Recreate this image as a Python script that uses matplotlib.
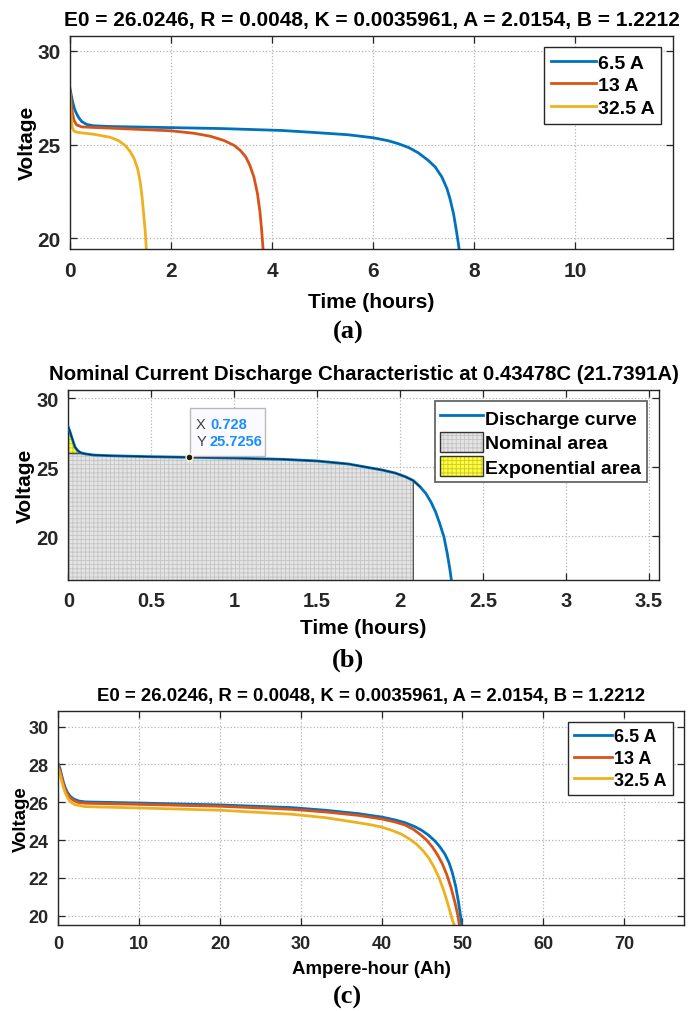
import numpy as np
import matplotlib
matplotlib.use("Agg")
import matplotlib.pyplot as plt
from matplotlib.patches import Rectangle, Patch
from matplotlib.legend_handler import HandlerTuple

# ---------------------------------------------------------------
# data
# ---------------------------------------------------------------
PARAM_TITLE = "E0 = 26.0246, R = 0.0048, K = 0.0035961, A = 2.0154, B = 1.2212"
currents = ["6.5 A", "13 A", "32.5 A"]

# (a) voltage vs time (hours)
a_t_65 = [0, 0.02, 0.053, 0.1, 0.166, 0.23, 0.33, 0.46, 0.79, 2.0, 3.0, 4.18, 4.84,
          5.5, 6.0, 6.3, 6.5, 6.7, 6.89, 7.09, 7.23, 7.36, 7.46, 7.52, 7.59, 7.64,
          7.68, 7.70]
a_v_65 = [27.97, 27.7, 27.26, 26.81, 26.46, 26.23, 26.07, 26.0, 25.96, 25.9, 25.85,
          25.75, 25.64, 25.52, 25.36, 25.2, 25.04, 24.84, 24.56, 24.15, 23.79, 23.26,
          22.64, 22.1, 21.3, 20.5, 19.8, 19.44]
a_t_13 = [0, 0.02, 0.046, 0.08, 0.13, 0.23, 0.46, 1.0, 1.5, 2.0, 2.45, 2.78, 3.05,
          3.25, 3.38, 3.48, 3.56, 3.64, 3.71, 3.76, 3.79, 3.82]
a_v_13 = [27.88, 27.34, 26.72, 26.28, 26.05, 25.94, 25.91, 25.85, 25.79, 25.73, 25.6,
          25.44, 25.21, 24.95, 24.66, 24.33, 23.88, 23.26, 22.37, 21.39, 20.5, 19.44]
a_t_325 = [0, 0.013, 0.026, 0.046, 0.08, 0.166, 0.46, 0.79, 0.96, 1.09, 1.19, 1.27,
           1.34, 1.39, 1.43, 1.46, 1.49, 1.51]
a_v_325 = [27.7, 26.9, 26.28, 25.89, 25.71, 25.64, 25.55, 25.39, 25.21, 24.95, 24.63,
           24.24, 23.7, 22.99, 22.1, 21.22, 20.33, 19.44]

# (b) nominal current discharge curve
b_t = [0, 0.01, 0.02, 0.03, 0.04, 0.055, 0.07, 0.09, 0.11, 0.15, 0.25, 0.5, 0.728,
       1.0, 1.29, 1.5, 1.69, 1.89, 1.97, 2.03, 2.08, 2.12, 2.155, 2.187, 2.215, 2.24,
       2.265, 2.285, 2.30, 2.31]
b_v = [27.89, 27.55, 27.17, 26.8, 26.45, 26.22, 26.08, 26.0, 25.96, 25.89, 25.84,
       25.77, 25.7256, 25.67, 25.58, 25.46, 25.24, 24.81, 24.59, 24.33, 24.04, 23.6,
       23.12, 22.47, 21.75, 20.9, 19.94, 18.73, 17.65, 16.8]
b_exp_v = 26.0      # end of exponential zone
b_exp_t = 0.09
b_nom_t = 2.08      # end of nominal zone
tip_x, tip_y = 0.728, 25.7256

# (c) voltage vs ampere-hour
c_ah_65 = [0, 0.21, 0.41, 0.62, 0.83, 1.12, 1.45, 1.86, 2.48, 3.3, 10, 20, 28.8, 33,
           37.1, 40.0, 41.65, 42.9, 44.13, 44.96, 45.79, 46.61, 47.23, 47.85, 48.35,
           48.76, 49.17, 49.5, 49.75, 49.92]
c_v_65 = [28.0, 27.75, 27.39, 27.04, 26.78, 26.51, 26.32, 26.18, 26.07, 26.02, 25.96,
          25.86, 25.72, 25.58, 25.4, 25.22, 25.07, 24.92, 24.71, 24.52, 24.27, 23.95,
          23.64, 23.25, 22.81, 22.28, 21.57, 20.78, 20.07, 19.51]
c_ah_13 = [0, 0.21, 0.41, 0.62, 0.83, 1.12, 1.45, 1.86, 2.48, 3.3, 10, 20, 28.8, 33,
           37.1, 40.0, 41.65, 42.9, 43.93, 44.75, 45.58, 46.28, 46.94, 47.52, 48.06,
           48.6, 49.09, 49.42, 49.63]
c_v_13 = [27.9, 27.62, 27.28, 26.94, 26.68, 26.42, 26.24, 26.1, 25.99, 25.95, 25.89,
          25.79, 25.63, 25.49, 25.31, 25.12, 24.96, 24.8, 24.57, 24.31, 24.0, 23.64,
          23.21, 22.75, 22.19, 21.49, 20.69, 20.07, 19.51]
c_ah_325 = [0, 0.21, 0.41, 0.62, 0.83, 1.24, 1.65, 2.07, 3.3, 10, 20, 28.8, 33, 37.1,
            38.76, 40.0, 41.24, 42.48, 43.51, 44.34, 45.17, 45.87, 46.53, 47.11, 47.64,
            48.1, 48.51, 48.8, 49.0]
c_v_325 = [27.75, 27.45, 27.1, 26.78, 26.51, 26.15, 25.97, 25.87, 25.77, 25.7, 25.58,
           25.37, 25.19, 24.92, 24.8, 24.69, 24.52, 24.31, 24.04, 23.78, 23.42, 23.04,
           22.54, 22.01, 21.4, 20.78, 20.16, 19.72, 19.51]

# ---------------------------------------------------------------
# style
# ---------------------------------------------------------------
plt.rcParams['font.family'] = ['Liberation Sans', 'DejaVu Sans']
plt.rcParams['font.weight'] = 'bold'
plt.rcParams['hatch.linewidth'] = 0.6
COLORS = ['#0072BD', '#D95319', '#EDB120']
SPINE = '#262626'


def matlab_axes(ax, tick_size, pad=7):
    ax.grid(True, color='#b4b4b4', linestyle=':', linewidth=0.9)
    ax.set_axisbelow(True)
    ax.tick_params(direction='in', length=5, width=0.9, top=True, right=True,
                   labelsize=tick_size, colors=SPINE, pad=7)
    ax.tick_params(axis='x', pad=pad)
    for s in ax.spines.values():
        s.set_color(SPINE)
        s.set_linewidth(1.0)
    for lab in ax.get_xticklabels() + ax.get_yticklabels():
        lab.set_fontweight('bold')


def matlab_legend(ax, size, hl):
    leg = ax.legend(loc='upper right', fontsize=size, fancybox=False, framealpha=1,
                    edgecolor=SPINE, handlelength=hl, handletextpad=0.1,
                    borderpad=0.35, labelspacing=0.25, borderaxespad=0.6)
    leg.get_frame().set_linewidth(1.0)
    return leg


fig = plt.figure(figsize=(6.93, 10.12), dpi=100)

# ---------------------------------------------------------------
# (a)
# ---------------------------------------------------------------
ax1 = fig.add_axes([0.101, 0.753, 0.870, 0.2107])
for t, v, lab, c in zip([a_t_65, a_t_13, a_t_325], [a_v_65, a_v_13, a_v_325],
                        currents, COLORS):
    ax1.plot(t, v, color=c, lw=2.0, label=lab)
ax1.set_xlim(0, 11.93)
ax1.set_ylim(19.43, 30.8)
ax1.set_xticks([0, 2, 4, 6, 8, 10])
ax1.set_yticks([20, 25, 30])
ax1.set_title(PARAM_TITLE, fontsize=15, fontweight='bold', pad=8)
ax1.set_xlabel('Time (hours)', fontsize=15, fontweight='bold', labelpad=8)
ax1.set_ylabel('Voltage', fontsize=15, fontweight='bold', labelpad=0)
matlab_axes(ax1, 15, pad=9)
matlab_legend(ax1, 14, 2.3)

# ---------------------------------------------------------------
# (b)
# ---------------------------------------------------------------
ax2 = fig.add_axes([0.0988, 0.4262, 0.8517, 0.1877])
bt = np.array(b_t)
bv = np.array(b_v)
nom_mask = bt <= b_nom_t
exp_mask = bt <= b_exp_t
nom_top = np.minimum(bv[nom_mask], b_exp_v)

nom_fill = ax2.fill_between(bt[nom_mask], 0, nom_top, facecolor='#e4e4e4',
                            edgecolor='#c4c4c4', hatch='++++', linewidth=0, zorder=2)
ax2.fill_between(bt[nom_mask], 0, nom_top, facecolor='none', edgecolor='#4d4d4d',
                 linewidth=0.9, zorder=2.5)
exp_fill = ax2.fill_between(bt[exp_mask], b_exp_v, bv[exp_mask], facecolor='#ffff33',
                            edgecolor='#c9c93a', hatch='++++', linewidth=0, zorder=2)
ax2.fill_between(bt[exp_mask], b_exp_v, bv[exp_mask], facecolor='none',
                 edgecolor='#4d4d4d', linewidth=0.9, zorder=2.5)
curve, = ax2.plot(bt, bv, color=COLORS[0], lw=2.0, zorder=3)
ax2.plot(bt[bt <= b_nom_t + 0.05], bv[bt <= b_nom_t + 0.05], color='#0b2540', lw=0.7,
         zorder=4)
ax2.plot([tip_x], [tip_y], 'o', ms=5, mfc='#1a1a1a', mec='#ffffcc', mew=1.0, zorder=6)

# data tip box
ax2.add_patch(Rectangle((0.733, 25.84), 0.45, 3.46, facecolor='#fbfbff',
                        edgecolor='#b9b9b9', lw=1.0, zorder=5))
tip_font = dict(fontsize=10.5, va='center', zorder=6,
                family=['Liberation Sans', 'DejaVu Sans'])
ax2.text(0.77, 28.14, 'X', fontweight='normal', color='#404040', **tip_font)
ax2.text(0.77, 26.93, 'Y', fontweight='normal', color='#404040', **tip_font)
ax2.text(0.853, 28.14, f'{tip_x:g}', fontweight='bold', color='#1a8cff', **tip_font)
ax2.text(0.853, 26.93, f'{tip_y:.4f}', fontweight='bold', color='#1a8cff', **tip_font)

ax2.set_xlim(0, 3.56)
ax2.set_ylim(16.86, 30.62)
ax2.set_xticks([0, 0.5, 1, 1.5, 2, 2.5, 3, 3.5])
ax2.set_xticklabels(['0', '0.5', '1', '1.5', '2', '2.5', '3', '3.5'])
ax2.set_yticks([20, 25, 30])
ax2.set_title('Nominal Current Discharge Characteristic at 0.43478C (21.7391A)',
              fontsize=14.7, fontweight='bold', pad=8)
ax2.set_xlabel('Time (hours)', fontsize=15, fontweight='bold', labelpad=6)
ax2.set_ylabel('Voltage', fontsize=15, fontweight='bold', labelpad=1)
matlab_axes(ax2, 14.5, pad=8)
border = Patch(facecolor='none', edgecolor='#333333', linewidth=1.0)
leg = ax2.legend([curve, (nom_fill, border), (exp_fill, border)],
                 ['Discharge curve', 'Nominal area', 'Exponential area'],
                 handler_map={tuple: HandlerTuple(ndivide=1, pad=0)},
                 loc='upper right', fontsize=14, fancybox=False, framealpha=1,
                 edgecolor='#666666', handlelength=2.2, handleheight=1.2,
                 handletextpad=0.1, borderpad=0.3, labelspacing=0.2, borderaxespad=0.6)
leg.get_frame().set_linewidth(1.3)

# ---------------------------------------------------------------
# (c)
# ---------------------------------------------------------------
ax3 = fig.add_axes([0.0844, 0.0850, 0.9021, 0.2111])
for ah, v, lab, c in zip([c_ah_65, c_ah_13, c_ah_325], [c_v_65, c_v_13, c_v_325],
                         currents, COLORS):
    ax3.plot(ah, v, color=c, lw=2.0, label=lab)
ax3.set_xlim(0, 77.4)
ax3.set_ylim(19.51, 30.81)
ax3.set_xticks([0, 10, 20, 30, 40, 50, 60, 70])
ax3.set_yticks([20, 22, 24, 26, 28, 30])
ax3.set_title(PARAM_TITLE, fontsize=13.4, fontweight='bold', pad=8)
ax3.set_xlabel('Ampere-hour (Ah)', fontsize=13.4, fontweight='bold', labelpad=6)
ax3.set_ylabel('Voltage', fontsize=13.4, fontweight='bold', labelpad=-1)
matlab_axes(ax3, 13)
matlab_legend(ax3, 13, 2.1)

# panel letters
for y, s in [(0.671, '(a)'), (0.348, '(b)'), (0.0148, '(c)')]:
    fig.text(0.502, y, s, fontsize=19, fontweight='bold', ha='center', va='center',
             family=['Liberation Serif', 'DejaVu Serif'])

fig.savefig('out.png', dpi=100)
